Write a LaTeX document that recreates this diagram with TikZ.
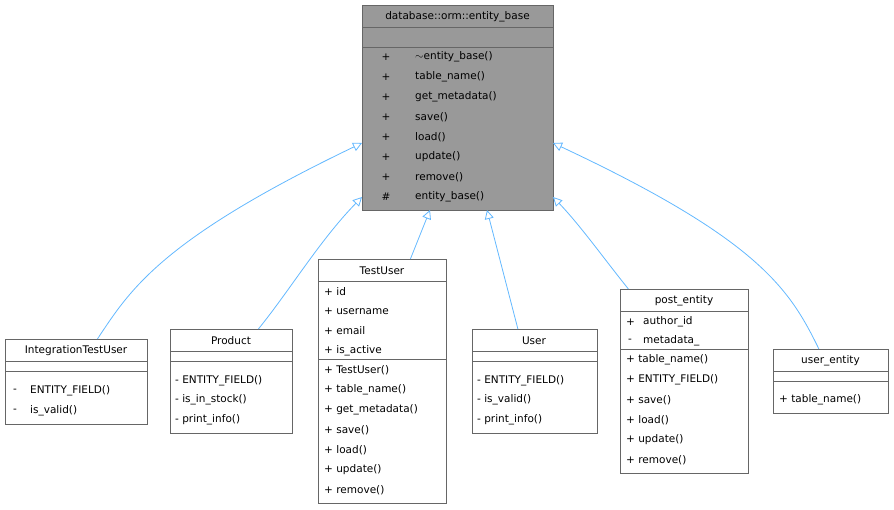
\documentclass[tikz,border=0pt]{standalone}
\usepackage{fontspec}
\setmainfont{DejaVu Sans}
\usetikzlibrary{arrows.meta}
\definecolor{bord}{HTML}{666666}
\definecolor{edge}{HTML}{63B8FF}
\begin{document}
\begin{tikzpicture}[x=1pt,y=-1pt,
  box/.style={draw=bord,line width=0.8pt,inner sep=0,anchor=north west,fill=white},
  sep/.style={draw=bord,line width=0.8pt},
  t/.style={anchor=center,inner sep=0,font=\fontsize{10.5}{12}\selectfont},
  l/.style={anchor=west,inner sep=0,font=\fontsize{10.5}{12}\selectfont},
  inh/.style={draw=edge,line width=0.8pt,-{Triangle[open,length=9pt,width=9pt,fill=white]}}]
\useasboundingbox (0,0) rectangle (894,509);
% base
\node[box,fill=black!40,minimum width=191pt,minimum height=205pt] (base) at (362,5) {};
\draw[sep] (362,27)--(553,27); \draw[sep] (362,47)--(553,47);
\node[t] (bt) at (457.5,16.5) {database::orm::entity\_base};
\foreach \v/\n [count=\i] in {+/$\sim$entity\_base(),+/table\_name(),+/get\_metadata(),+/save(),+/load(),+/update(),+/remove(),\#/entity\_base()}{
  \node[t] at (386,37+20*\i) {\v}; \node[l] at (415,37+20*\i) {\n};}
\coordinate (bw1) at (362,143); \coordinate (bw2) at (362,197);
\coordinate (bb1) at (430,210); \coordinate (bb2) at (487,210);
\coordinate (be1) at (553,197); \coordinate (be2) at (553,143);
% IntegrationTestUser
\node[box,minimum width=142pt,minimum height=85pt] (itu) at (5,339) {};
\draw[sep] (5,361)--(147,361); \draw[sep] (5,371)--(147,371);
\node[t] at (76,350.5) {IntegrationTestUser};
\node[l] at (13,391) {-}; \node[l] at (30,391) {ENTITY\_FIELD()};
\node[l] at (13,411) {-}; \node[l] at (30,411) {is\_valid()};
% Product
\node[box,minimum width=122pt,minimum height=104pt] (prod) at (170,329) {};
\draw[sep] (170,351)--(292,351); \draw[sep] (170,361)--(292,361);
\node[t] at (231,340.5) {Product};
\foreach \n [count=\i] in {ENTITY\_FIELD(),is\_in\_stock(),print\_info()}{
  \node[l] at (175,361+19.5*\i) {- \n};}
% TestUser
\node[box,minimum width=128pt,minimum height=244pt] (tu) at (318,259) {};
\draw[sep] (318,281)--(446,281); \draw[sep] (318,359)--(446,359);
\node[t] at (382,270.5) {TestUser};
\foreach \n [count=\i] in {id,username,email,is\_active}{
  \node[l] at (324,271.5+19.7*\i) {+ \n};}
\foreach \n [count=\i] in {TestUser(),table\_name(),get\_metadata(),save(),load(),update(),remove()}{
  \node[l] at (324,350+20*\i) {+ \n};}
% User
\node[box,minimum width=125pt,minimum height=104pt] (user) at (472,329) {};
\draw[sep] (472,351)--(597,351); \draw[sep] (472,361)--(597,361);
\node[t] at (534,340.5) {User};
\foreach \n [count=\i] in {ENTITY\_FIELD(),is\_valid(),print\_info()}{
  \node[l] at (477,361+19.5*\i) {- \n};}
% post_entity
\node[box,minimum width=128pt,minimum height=184pt] (pe) at (620,289) {};
\draw[sep] (620,311)--(748,311); \draw[sep] (620,349)--(748,349);
\node[t] at (684,300.5) {post\_entity};
\node[l] at (626,322) {+}; \node[l] at (643,322) {author\_id};
\node[l] at (628,341) {-}; \node[l] at (643,341) {metadata\_};
\foreach \n [count=\i] in {table\_name(),ENTITY\_FIELD(),save(),load(),update(),remove()}{
  \node[l] at (626,340+20*\i) {+ \n};}
% user_entity
\node[box,minimum width=115pt,minimum height=64pt] (ue) at (773,349) {};
\draw[sep] (773,371)--(888,371); \draw[sep] (773,381)--(888,381);
\node[t] at (830.5,360.5) {user\_entity};
\node[l] at (779,400) {+ table\_name()};
% edges
\draw[inh] (itu.north) ++(21,0) .. controls (130,290) and (160,240) .. (bw1);
\path (prod.north) ++(27,0) coordinate (pt);
\draw[inh] (pt) .. controls (290,290) and (320,240) .. (bw2);
\path (tu.north) ++(28,0) coordinate (tt);
\draw[inh] (tt) -- (bb1);
\path (user.north) ++(-17,0) coordinate (ut);
\draw[inh] (ut) -- (bb2);
\path (pe.north) ++(-56,0) coordinate (pet);
\draw[inh] (pet) .. controls (605,260) and (580,225) .. (be1);
\path (ue.north) ++(-12,0) coordinate (uet);
\draw[inh] (uet) .. controls (790,290) and (760,240) .. (be2);
\end{tikzpicture}
\end{document}
